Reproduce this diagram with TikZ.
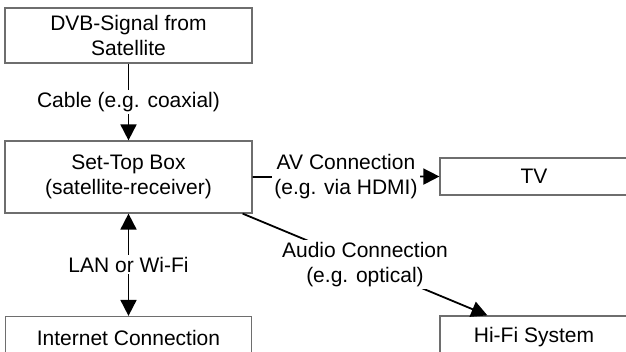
\documentclass[tikz,border=0pt]{standalone}
\usepackage{fontspec}
\setmainfont{Liberation Sans}
\usetikzlibrary{arrows.meta}
\definecolor{boxgray}{RGB}{110,110,110}
\begin{document}
\begin{tikzpicture}[x=1pt,y=-1pt,
  every node/.style={font=\fontsize{21}{25.5}\selectfont, align=center},
  box/.style={draw=boxgray, line width=1.2pt, fill=white, inner sep=0pt},
  conn/.style={black, line width=1.8pt},
  arr/.style={conn, -{Triangle[length=16pt,width=16pt]}},
  lbl/.style={fill=white, inner sep=2pt}
]
\useasboundingbox (0,0) rectangle (626,352);
\clip (0,0) rectangle (626,352);
\node[box, minimum width=247pt, minimum height=55pt] (sat) at (128.5,35.5) {DVB-Signal from\\Satellite};
\node[box, minimum width=247pt, minimum height=72pt] (stb) at (128.5,177) {Set-Top Box\\(satellite-receiver)};
\node[box, minimum width=188pt, minimum height=37pt] (tv) at (534,176.5) {TV};
\node[box, minimum width=188pt, minimum height=42pt] (hifi) at (534,337) {Hi-Fi System};
\node[box, minimum width=246pt, minimum height=42pt] (inet) at (128.5,337.5) {Internet Connection};
\draw[arr] (sat) -- (stb) node[midway, lbl] {Cable (e.g. coaxial)};
\draw[conn, {Triangle[length=16pt,width=16pt]}-{Triangle[length=16pt,width=16pt]}] (stb) -- (inet) node[midway, lbl] {LAN or Wi-Fi};
\draw[arr] (stb.east) -- (tv.west) node[midway, lbl] {AV Connection\\(e.g. via HDMI)};
\coordinate (aS) at ([xshift=-10pt]stb.south east);
\coordinate (aE) at ([xshift=48pt]hifi.north west);
\draw[arr] (aS) -- (aE) node[midway, lbl] {Audio Connection\\(e.g. optical)};
\end{tikzpicture}
\end{document}
